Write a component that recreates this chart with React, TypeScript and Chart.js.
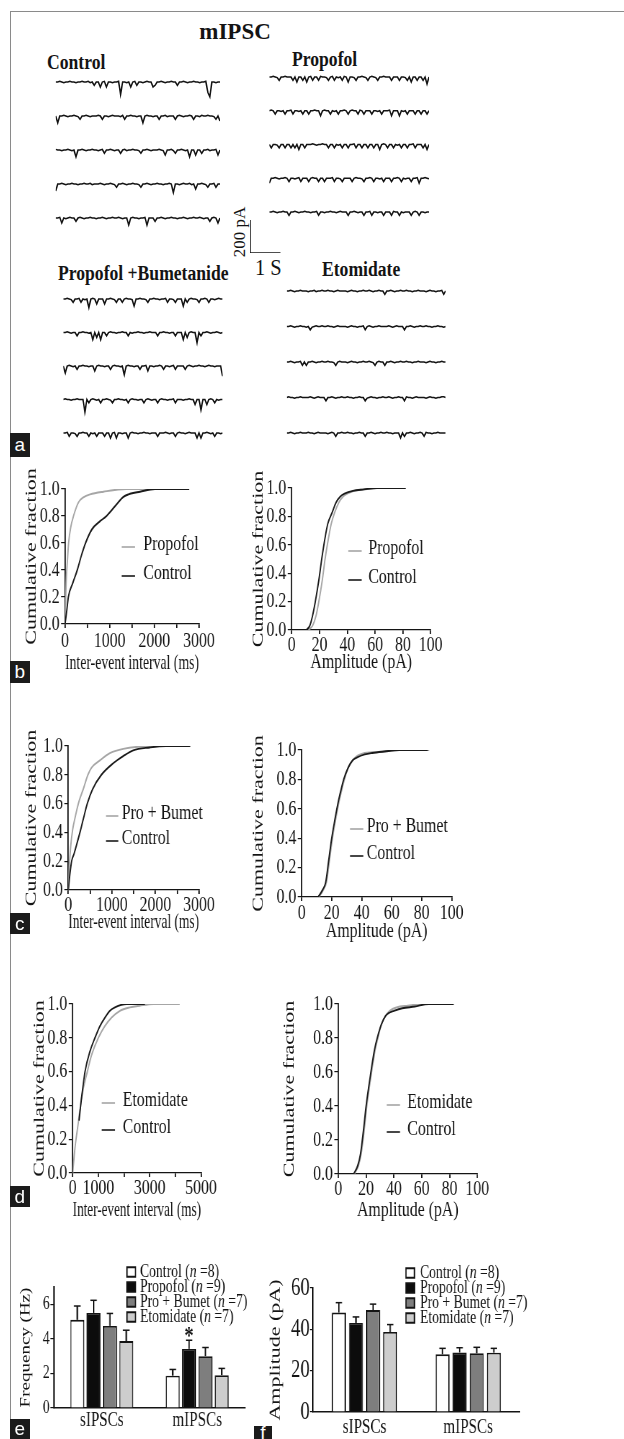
import React, { useEffect, useRef } from 'react';
import { Chart, registerables } from 'chart.js';

Chart.register(...registerables);

const SERIF = "'Liberation Serif', 'Times New Roman', Times, serif";
const SANS = "'Liberation Sans', Arial, Helvetica, sans-serif";
const INK = '#141414';

// ================= DATA =================
// (a) mIPSC traces – one digit per sample; the digit indexes TRACE_LEVELS_PA (downward deflection)
const TRACES_CONTROL = [
  '1101211011 2110110213 1141041121 1081121410 3112101143 1101211011 3110121101 1211079112 11',
  '1511012110 1231101211 1013112101 1120311011 2115101121 1311021113 1012110131 1201101123 14',
  '0112110121 5110121101 1210311012 1131021101 1231101211 1012411023 1101215114 1131102110 41',
  '5110121101 1211011021 1101211012 3110121101 1231101211 0112110161 1210110214 1101231103 11',
  '1104121011 3101211011 2110121101 1012115101 1211051113 1101211011 2110121101 1012113101 41',
];
const TRACES_PROPOFOL = [
  '1101231101 1131411314 1031130112 3103121301 4112311012 3101231101 1131113112 3141131131 51',
  '1013112131 1031121311 3110114101 1312131101 3101130131 1131121311 1041114121 3111311311 31',
  '1311231131 1313141131 1101211011 3113121311 3110311311 3113114101 3113121311 3110311131 41',
  '4110121101 3112103111 3101131131 1103112311 1131011231 1013112131 1131101312 1131104110 12',
  '1101211011 3110121101 1211031121 1011210111 3110121131 1031121131 1130113121 1131013112 11',
];
const TRACES_PRO_BUMET = [
  '1101231103 1216101411 1411012311 3101125110 1123110112 1103112311 1513101123 1101311210 11',
  '1101211311 0112151415 1131011211 0113121101 1211011131 1011211311 1514101171 3110121101 21',
  '1510121311 0112114101 1211310112 1610112113 1104112110 1311210311 1131012110 1121011211 17',
  '1011211011 1813101213 1101231101 1213101121 1310121131 0112110311 1211011411 7114101312 11',
  '1103112311 0113121311 1311410411 2114101121 1011211131 1101211310 1121011141 4110121311 21',
];
const TRACES_ETOMIDATE = [
  '1101211011 1211021101 1011210111 1210112110 1101211011 3110121101 1011211011 1210112110 31',
  '1101211011 2132101101 1011210111 1210112110 3101211011 1101210111 3110121101 1011211011 21',
  '1101211031 3110121101 1011231011 1210112110 1101231011 3110121101 1011211011 1210112110 11',
  '1011211011 1101210111 3110121101 1011211011 3210112110 1101211011 3011210111 1210112110 01',
  '1101211011 1011210111 1210131101 1011211011 3110121101 1011211141 3110121101 3011211011 11',
];
const TRACE_LEVELS_PA = [-4, 0, 4, 20, 30, 42, 52, 62, 75, 90];
const TRACE_SECONDS = 5.2;
const SCALE_BAR_S = 1;
const SCALE_BAR_PA = 200;

// (b)-(d) cumulative fraction curves: [x, fraction]
const IEI_B_CONTROL = [[0, 0], [40, 0.1], [75, 0.2], [170, 0.3], [275, 0.4], [360, 0.5], [460, 0.6], [600, 0.7], [780, 0.76], [930, 0.8], [1190, 0.9], [1300, 0.94], [1420, 0.96], [1680, 0.98], [2015, 1], [2780, 1]];
const IEI_B_PROPOFOL = [[0, 0], [25, 0.3], [60, 0.5], [80, 0.6], [130, 0.72], [190, 0.8], [300, 0.9], [420, 0.94], [560, 0.96], [860, 0.98], [1370, 1], [2760, 1]];
const AMP_B_CONTROL = [[10.5, 0], [13, 0.03], [15, 0.1], [17, 0.2], [19.5, 0.35], [21.6, 0.5], [24, 0.65], [26, 0.75], [28.8, 0.82], [32, 0.9], [35, 0.94], [38, 0.96], [44, 0.98], [52, 0.99], [61, 1], [82, 1]];
const AMP_B_PROPOFOL = [[12, 0], [15, 0.03], [17.5, 0.1], [19.5, 0.2], [22, 0.35], [24, 0.5], [26.5, 0.65], [28.5, 0.75], [31, 0.83], [34, 0.9], [37, 0.94], [40, 0.96], [45, 0.98], [52, 0.99], [62, 1], [82, 1]];
const IEI_C_CONTROL = [[0, 0], [40, 0.12], [76, 0.2], [130, 0.25], [267, 0.4], [350, 0.5], [435, 0.6], [557, 0.7], [760, 0.8], [1030, 0.88], [1260, 0.93], [1490, 0.97], [1870, 0.99], [2240, 1], [2800, 1]];
const IEI_C_BUMET = [[0, 0], [20, 0.15], [53, 0.3], [100, 0.42], [153, 0.5], [250, 0.62], [343, 0.7], [450, 0.8], [534, 0.85], [725, 0.9], [954, 0.95], [1260, 0.98], [2020, 1], [2790, 1]];
const AMP_C_CONTROL = [[11, 0], [14, 0.05], [16, 0.1], [18, 0.25], [20, 0.4], [22, 0.52], [24, 0.63], [26, 0.72], [28, 0.8], [31, 0.88], [34, 0.93], [37, 0.95], [42, 0.97], [47, 0.98], [55, 0.99], [65, 1], [84, 1]];
const AMP_C_BUMET = [[11.5, 0], [14.5, 0.05], [16.5, 0.1], [18.5, 0.25], [20.5, 0.4], [22.5, 0.52], [24.5, 0.63], [26.5, 0.72], [28.5, 0.8], [31, 0.88], [34, 0.93], [37, 0.96], [42, 0.98], [47, 0.985], [55, 0.99], [65, 1], [85, 1]];
const IEI_D_CONTROL = [[246, 0.31], [350, 0.45], [480, 0.6], [673, 0.72], [868, 0.8], [1063, 0.87], [1257, 0.92], [1450, 0.96], [1645, 0.98], [2100, 1], [2815, 1]];
const IEI_D_ETOMIDATE = [[0, 0], [90, 0.15], [220, 0.3], [350, 0.45], [570, 0.6], [740, 0.7], [1000, 0.8], [1257, 0.87], [1517, 0.92], [1840, 0.96], [2230, 0.98], [2610, 0.99], [3140, 1], [4170, 1]];
const AMP_D_CONTROL = [[11, 0], [14, 0.05], [16, 0.12], [18, 0.25], [20, 0.4], [22, 0.52], [24, 0.63], [26, 0.73], [28, 0.8], [31, 0.88], [34, 0.93], [37, 0.95], [40, 0.96], [46, 0.975], [55, 0.985], [65, 1], [83, 1]];
const AMP_D_ETOMIDATE = [[11.5, 0], [14.5, 0.05], [16.5, 0.12], [18.5, 0.25], [20.5, 0.4], [22.5, 0.52], [24.5, 0.63], [26.5, 0.73], [28.5, 0.8], [31, 0.88], [34, 0.93], [37, 0.96], [42, 0.98], [50, 0.99], [60, 1], [83, 1]];
const IEI_TICK_LABELS_3000 = [0, 1000, 2000, 3000];
const IEI_TICK_LABELS_5000 = [0, 1000, 3000, 5000];
const AMP_TICK_LABELS = [0, 20, 40, 60, 80, 100];

// (e)-(f) bar graphs
const CATEGORIES = ['sIPSCs', 'mIPSCs'];
const GROUP_LABELS = ['Control', 'Propofol', 'Pro + Bumet', 'Etomidate'];
const GROUP_N = [8, 9, 7, 7];
const FREQ_MEAN = [[5.1, 1.87], [5.5, 3.42], [4.75, 3.0], [3.87, 1.9]];
const FREQ_SEM = [[0.8, 0.36], [0.73, 0.5], [0.72, 0.5], [0.63, 0.39]];
const AMP_MEAN = [[48.1, 27.9], [43.1, 28.8], [49.3, 28.4], [38.7, 28.7]];
const AMP_SEM = [[4.8, 2.9], [2.9, 2.3], [2.9, 2.9], [3.6, 2.1]];
const FREQ_MARKS = [{ group: 1, category: 1, text: '*' }];

// ================= STYLE =================
const GROUP_FILL = ['#ffffff', '#0c0c0c', '#7e7e7e', '#cdcdcd'];
const TREAT_COLOR = '#a6a6a6';
const CONTROL_COLOR = '#1a1a1a';
const PX_PER_PA = 33 / SCALE_BAR_PA;
const SQUISH = 0.72; // the printed graphs are horizontally condensed

type Box = { left: number; top: number; width: number; height: number };

function ChartCanvas({ box, sx = 1, make }: { box: Box; sx?: number; make: (b: Box, iw: number) => any }) {
  const ref = useRef<HTMLCanvasElement | null>(null);
  const iw = Math.round(box.width / sx);
  useEffect(() => {
    if (!ref.current) return;
    const chart = new Chart(ref.current, make(box, iw));
    return () => chart.destroy();
  }, []);
  return (
    <canvas
      ref={ref}
      width={iw}
      height={box.height}
      style={{
        position: 'absolute', left: box.left, top: box.top, width: iw, height: box.height,
        transform: sx !== 1 ? `scaleX(${sx})` : undefined, transformOrigin: '0 0',
      }}
    />
  );
}

const baseOptions = {
  responsive: false,
  animation: false,
  devicePixelRatio: 1,
  events: [] as any[],
};

// ---------- traces ----------
const parseTrace = (s: string) => s.replace(/\s+/g, '').split('').map(Number);

type TraceGroup = { traces: string[]; left: number; width: number; base: number; gap: number };
const TRACE_GROUPS: TraceGroup[] = [
  { traces: TRACES_CONTROL, left: 55.7, width: 164.3, base: 82, gap: 34 },
  { traces: TRACES_PROPOFOL, left: 269.3, width: 159.7, base: 77, gap: 33.75 },
  { traces: TRACES_PRO_BUMET, left: 63.3, width: 159.3, base: 299, gap: 33.5 },
  { traces: TRACES_ETOMIDATE, left: 286.7, width: 159, base: 291, gap: 35.5 },
];

function traceBox(g: TraceGroup): Box {
  return {
    left: Math.floor(g.left - 3),
    top: Math.round(g.base - 10),
    width: Math.ceil(g.width + 6),
    height: Math.round(g.gap * 4 + 32),
  };
}

function traceConfig(g: TraceGroup, box: Box) {
  const yMax = (g.base - box.top) / PX_PER_PA;
  const yMin = yMax - box.height / PX_PER_PA;
  const gapPA = g.gap / PX_PER_PA;
  return {
    type: 'line',
    data: {
      datasets: g.traces.map((t, i) => {
        const v = parseTrace(t);
        const dt = TRACE_SECONDS / (v.length - 1);
        return {
          data: v.map((d, j) => ({ x: j * dt, y: -i * gapPA - TRACE_LEVELS_PA[d] })),
          borderColor: INK,
          borderWidth: 1.5,
          pointRadius: 0,
          tension: 0,
          fill: false,
        };
      }),
    },
    options: {
      ...baseOptions,
      layout: { padding: { left: g.left - box.left, right: box.left + box.width - (g.left + g.width), top: 0, bottom: 0 } },
      plugins: { legend: { display: false }, tooltip: { enabled: false } },
      scales: {
        x: { type: 'linear', display: false, min: 0, max: TRACE_SECONDS },
        y: { type: 'linear', display: false, min: yMin, max: yMax },
      },
    },
  };
}

const SCALE_BAR = { x: 250, top: 220, bottom: 253, right: 280.7 };
const scaleBarBox: Box = { left: 247, top: 216, width: 38, height: 41 };
function scaleBarConfig(box: Box) {
  return {
    type: 'line',
    data: {
      datasets: [{
        data: [{ x: 0, y: SCALE_BAR_PA }, { x: 0, y: 0 }, { x: SCALE_BAR_S, y: 0 }],
        borderColor: INK, borderWidth: 1.5, pointRadius: 0, tension: 0, fill: false,
      }],
    },
    options: {
      ...baseOptions,
      layout: {
        padding: {
          left: SCALE_BAR.x - box.left,
          right: box.left + box.width - SCALE_BAR.right,
          top: SCALE_BAR.top - box.top,
          bottom: box.top + box.height - SCALE_BAR.bottom,
        },
      },
      plugins: { legend: { display: false }, tooltip: { enabled: false } },
      scales: {
        x: { type: 'linear', display: false, min: 0, max: SCALE_BAR_S },
        y: { type: 'linear', display: false, min: 0, max: SCALE_BAR_PA },
      },
    },
  };
}

// ---------- cumulative fraction ----------
type CdfSpec = {
  yTitleX: number; xTitleY: number; xLabelY: number;
  x0: number; x1: number; yTop: number; yBot: number;
  xMax: number; xStep: number; xLabels: number[]; xTitle: string;
  control: number[][]; treat: number[][]; treatLabel: string;
  legX0: number; legX1: number; legY: number[]; legTextX: number;
};

const CDF_SPECS: CdfSpec[] = [
  { yTitleX: 31.7, xTitleY: 663, xLabelY: 641, x0: 65, x1: 199, yTop: 489, yBot: 624, xMax: 3000, xStep: 500, xLabels: IEI_TICK_LABELS_3000, xTitle: 'Inter-event interval (ms)', control: IEI_B_CONTROL, treat: IEI_B_PROPOFOL, treatLabel: 'Propofol', legX0: 121.7, legX1: 135, legY: [547, 576], legTextX: 143.3 },
  { yTitleX: 258.3, xTitleY: 662, xLabelY: 645, x0: 291.7, x1: 430.7, yTop: 488, yBot: 630, xMax: 100, xStep: 20, xLabels: AMP_TICK_LABELS, xTitle: 'Amplitude (pA)', control: AMP_B_CONTROL, treat: AMP_B_PROPOFOL, treatLabel: 'Propofol', legX0: 348.3, legX1: 361.7, legY: [551, 580], legTextX: 368.3 },
  { yTitleX: 31.7, xTitleY: 922, xLabelY: 903, x0: 68.3, x1: 199, yTop: 746, yBot: 890, xMax: 3000, xStep: 500, xLabels: IEI_TICK_LABELS_3000, xTitle: 'Inter-event interval (ms)', control: IEI_C_CONTROL, treat: IEI_C_BUMET, treatLabel: 'Pro + Bumet', legX0: 106, legX1: 118.3, legY: [816, 841], legTextX: 121.7 },
  { yTitleX: 258.3, xTitleY: 931, xLabelY: 913, x0: 301.7, x1: 451.7, yTop: 750, yBot: 897, xMax: 100, xStep: 20, xLabels: AMP_TICK_LABELS, xTitle: 'Amplitude (pA)', control: AMP_C_CONTROL, treat: AMP_C_BUMET, treatLabel: 'Pro + Bumet', legX0: 350, legX1: 363.3, legY: [829, 856], legTextX: 366.7 },
  { yTitleX: 40, xTitleY: 1210, xLabelY: 1187, x0: 72.7, x1: 201, yTop: 1004, yBot: 1173, xMax: 5000, xStep: 1000, xLabels: IEI_TICK_LABELS_5000, xTitle: 'Inter-event interval (ms)', control: IEI_D_CONTROL, treat: IEI_D_ETOMIDATE, treatLabel: 'Etomidate', legX0: 101.7, legX1: 115, legY: [1103, 1130], legTextX: 122.7 },
  { yTitleX: 290, xTitleY: 1210, xLabelY: 1187, x0: 338.3, x1: 477.3, yTop: 1004, yBot: 1174, xMax: 100, xStep: 20, xLabels: AMP_TICK_LABELS, xTitle: 'Amplitude (pA)', control: AMP_D_CONTROL, treat: AMP_D_ETOMIDATE, treatLabel: 'Etomidate', legX0: 386.7, legX1: 400, legY: [1105, 1132], legTextX: 407.3 },
];

const CDF_FONT = 22;

function cdfBox(s: CdfSpec): Box {
  const left = Math.round(s.yTitleX - ((CDF_FONT * 1.2) / 2) * SQUISH);
  const top = Math.round(s.yTop - 30);
  const right = Math.round(s.x1 + 22);
  const bottom = Math.round(s.xTitleY + (CDF_FONT * 1.2) / 2);
  return { left, top, width: right - left, height: bottom - top };
}

function cdfConfig(s: CdfSpec, box: Box, iw: number) {
  const ix = (x: number) => (x - box.left) / SQUISH;
  const tickPad = Math.max(0, Math.round(s.xLabelY - s.yBot - 4 - CDF_FONT / 2));
  const legendPlugin = {
    id: 'lineLegend',
    afterDatasetsDraw(chart: any) {
      const ctx = chart.ctx;
      const order = [1, 0];
      ctx.save();
      order.forEach((di, row) => {
        const ds = chart.data.datasets[di];
        const y = s.legY[row] - box.top;
        ctx.strokeStyle = ds.borderColor;
        ctx.lineWidth = 1.6;
        ctx.beginPath();
        ctx.moveTo(ix(s.legX0), y);
        ctx.lineTo(ix(s.legX1), y);
        ctx.stroke();
        ctx.fillStyle = INK;
        ctx.font = `${CDF_FONT}px ${SERIF}`;
        ctx.textBaseline = 'middle';
        ctx.textAlign = 'left';
        ctx.fillText(ds.label, ix(s.legTextX), y - 3);
      });
      ctx.restore();
    },
  };
  const tickFont = { family: SERIF, size: CDF_FONT, lineHeight: 1 };
  return {
    type: 'line',
    data: {
      datasets: [
        { label: 'Control', data: s.control.map(([x, y]) => ({ x, y })), borderColor: CONTROL_COLOR, borderWidth: 1.9, pointRadius: 0, cubicInterpolationMode: 'monotone', fill: false },
        { label: s.treatLabel, data: s.treat.map(([x, y]) => ({ x, y })), borderColor: TREAT_COLOR, borderWidth: 1.9, pointRadius: 0, cubicInterpolationMode: 'monotone', fill: false },
      ],
    },
    options: {
      ...baseOptions,
      layout: { padding: { left: 0, top: s.yTop - box.top, right: iw - ix(s.x1), bottom: 0 } },
      plugins: { legend: { display: false }, tooltip: { enabled: false } },
      scales: {
        x: {
          type: 'linear', min: 0, max: s.xMax,
          grid: { drawOnChartArea: false, drawTicks: true, tickLength: 4, color: INK, lineWidth: 1.8 },
          border: { color: INK, width: 1.3 },
          ticks: {
            stepSize: s.xStep, autoSkip: false, maxRotation: 0, padding: tickPad, color: INK, font: tickFont,
            callback: (v: any) => (s.xLabels.includes(Number(v)) ? String(v) : ''),
          },
          title: { display: true, text: s.xTitle, color: INK, font: { family: SERIF, size: CDF_FONT }, padding: 0 },
          afterFit: (sc: any) => { sc.height = box.top + box.height - s.yBot; },
        },
        y: {
          type: 'linear', min: 0, max: 1,
          grid: { drawOnChartArea: false, drawTicks: true, tickLength: 5.5, color: INK, lineWidth: 1.2 },
          border: { color: INK, width: 1.8 },
          ticks: {
            stepSize: 0.2, padding: 2, color: INK, font: tickFont,
            callback: (v: any) => Number(v).toFixed(1),
          },
          title: { display: true, text: 'Cumulative fraction', color: INK, font: { family: SERIF, size: CDF_FONT }, padding: 0 },
          afterFit: (sc: any) => { sc.width = ix(s.x0); },
        },
      },
    },
    plugins: [legendPlugin],
  };
}

// ---------- bar graphs ----------
type BarSpec = {
  yTitleX: number; yTitle: string; yTitleSize: number;
  x0: number; x1: number; yTop: number; yBot: number; xLabelY: number;
  yMax: number; yStep: number; yLabelStep: number; yTickSize: number; yTickLen: number; yTickPad: number;
  means: number[][]; sems: number[][]; marks: { group: number; category: number; text: string }[];
  catPct: number; barPct: number;
  legBoxX: number; legTextX: number; legRows: number[];
  canvasTop: number; canvasRight: number;
};

const BAR_SPECS: BarSpec[] = [
  {
    yTitleX: 26, yTitle: 'Frequency (Hz)', yTitleSize: 19,
    x0: 54, x1: 245, yTop: 1287, yBot: 1408, xLabelY: 1420,
    yMax: 7, yStep: 1, yLabelStep: 2, yTickSize: 19, yTickLen: 5, yTickPad: 1,
    means: FREQ_MEAN, sems: FREQ_SEM, marks: FREQ_MARKS,
    catPct: 0.684, barPct: 0.86,
    legBoxX: 127, legTextX: 140, legRows: [1272, 1287, 1302, 1317],
    canvasTop: 1260, canvasRight: 250,
  },
  {
    yTitleX: 276, yTitle: 'Amplitude (pA)', yTitleSize: 22,
    x0: 312.7, x1: 520, yTop: 1288, yBot: 1412, xLabelY: 1427,
    yMax: 60, yStep: 10, yLabelStep: 20, yTickSize: 26, yTickLen: 4, yTickPad: 0,
    means: AMP_MEAN, sems: AMP_SEM, marks: [],
    catPct: 0.66, barPct: 0.82,
    legBoxX: 406, legTextX: 420, legRows: [1273, 1288, 1303, 1318],
    canvasTop: 1260, canvasRight: 624,
  },
];

function barBox(s: BarSpec): Box {
  const left = Math.round(s.yTitleX - ((s.yTitleSize * 1.2) / 2) * SQUISH);
  return { left, top: s.canvasTop, width: s.canvasRight - left, height: 1439 - s.canvasTop };
}

function barConfig(s: BarSpec, box: Box, iw: number) {
  const ix = (x: number) => (x - box.left) / SQUISH;
  const LEG_SIZE = 19;
  const CAT_SIZE = 21;
  const errorPlugin = {
    id: 'errorBars',
    afterDatasetsDraw(chart: any) {
      const ctx = chart.ctx;
      const yScale = chart.scales.y;
      ctx.save();
      ctx.strokeStyle = INK;
      chart.data.datasets.forEach((ds: any, gi: number) => {
        const meta = chart.getDatasetMeta(gi);
        meta.data.forEach((bar: any, ci: number) => {
          const topPx = yScale.getPixelForValue(ds.data[ci] + s.sems[gi][ci]);
          ctx.lineWidth = 2;
          ctx.beginPath();
          ctx.moveTo(bar.x, bar.y);
          ctx.lineTo(bar.x, topPx);
          ctx.stroke();
          ctx.lineWidth = 1.5;
          ctx.beginPath();
          ctx.moveTo(bar.x - 4.5, topPx);
          ctx.lineTo(bar.x + 4.5, topPx);
          ctx.stroke();
        });
      });
      s.marks.forEach((m) => {
        const bar = chart.getDatasetMeta(m.group).data[m.category];
        const ds = chart.data.datasets[m.group];
        const topPx = yScale.getPixelForValue(ds.data[m.category] + s.sems[m.group][m.category]);
        ctx.fillStyle = INK;
        ctx.font = `bold 26px ${SERIF}`;
        ctx.textAlign = 'center';
        ctx.textBaseline = 'alphabetic';
        ctx.fillText(m.text, bar.x, topPx + 4);
      });
      ctx.restore();
    },
  };
  const legendPlugin = {
    id: 'groupLegend',
    afterDraw(chart: any) {
      const ctx = chart.ctx;
      ctx.save();
      chart.data.datasets.forEach((ds: any, gi: number) => {
        const y = s.legRows[gi] - box.top;
        const bx = ix(s.legBoxX);
        const bw = 8.5 / SQUISH;
        ctx.fillStyle = ds.backgroundColor;
        ctx.fillRect(bx, y - 4.75, bw, 9.5);
        ctx.strokeStyle = INK;
        ctx.lineWidth = 2;
        ctx.strokeRect(bx, y - 4.75, bw, 9.5);
        ctx.fillStyle = INK;
        ctx.textBaseline = 'middle';
        ctx.textAlign = 'left';
        let x = ix(s.legTextX);
        const normal = `${LEG_SIZE}px ${SERIF}`;
        const italic = `italic ${LEG_SIZE}px ${SERIF}`;
        const p1 = `${ds.label} (`;
        ctx.font = normal;
        ctx.fillText(p1, x, y);
        x += ctx.measureText(p1).width;
        ctx.font = italic;
        ctx.fillText('n', x, y);
        x += ctx.measureText('n').width;
        ctx.font = normal;
        ctx.fillText(` =${GROUP_N[gi]})`, x, y);
      });
      ctx.restore();
    },
  };
  const xPad = Math.max(0, Math.round(s.xLabelY - s.yBot - CAT_SIZE / 2));
  return {
    type: 'bar',
    data: {
      labels: CATEGORIES,
      datasets: GROUP_LABELS.map((label, gi) => ({
        label,
        data: s.means[gi],
        backgroundColor: GROUP_FILL[gi],
        borderColor: INK,
        borderWidth: 1.8,
        categoryPercentage: s.catPct,
        barPercentage: s.barPct,
      })),
    },
    options: {
      ...baseOptions,
      layout: { padding: { left: 0, top: s.yTop - box.top, right: iw - ix(s.x1), bottom: 0 } },
      plugins: { legend: { display: false }, tooltip: { enabled: false } },
      scales: {
        x: {
          type: 'category', offset: true,
          grid: { display: false, drawTicks: false, tickLength: 0 },
          border: { color: INK, width: 1.4 },
          ticks: { padding: xPad, color: INK, maxRotation: 0, autoSkip: false, font: { family: SERIF, size: CAT_SIZE, lineHeight: 1 } },
          afterFit: (sc: any) => { sc.height = box.top + box.height - s.yBot; },
        },
        y: {
          type: 'linear', min: 0, max: s.yMax,
          grid: { drawOnChartArea: false, drawTicks: true, tickLength: s.yTickLen, color: INK, lineWidth: 1.2 },
          border: { color: INK, width: 1.9 },
          ticks: {
            stepSize: s.yStep, padding: s.yTickPad, color: INK,
            font: { family: SERIF, size: s.yTickSize, lineHeight: 1 },
            callback: (v: any) => (Number(v) % s.yLabelStep === 0 ? String(v) : ''),
          },
          title: { display: true, text: s.yTitle, color: INK, font: { family: SERIF, size: s.yTitleSize }, padding: 0 },
          afterFit: (sc: any) => { sc.width = ix(s.x0); },
        },
      },
    },
    plugins: [errorPlugin, legendPlugin],
  };
}

// ---------- HTML text helpers ----------
function Text({ x, y, text, size, bold, anchor = 'left', rotate = false, sx = 1 }: { x: number; y: number; text: string; size: number; bold?: boolean; anchor?: 'left' | 'center'; rotate?: boolean; sx?: number }) {
  const tx = anchor === 'center' ? '-50%' : '0';
  return (
    <div
      style={{
        position: 'absolute', left: x, top: y, whiteSpace: 'nowrap',
        fontFamily: SERIF, fontSize: size, fontWeight: bold ? 'bold' : 'normal', lineHeight: 1,
        color: INK, transformOrigin: anchor === 'center' || rotate ? '50% 50%' : '0 50%',
        transform: rotate ? 'translate(-50%, -50%) rotate(-90deg)' : `translate(${tx}, -50%) scaleX(${sx})`,
      }}
    >
      {text}
    </div>
  );
}

function PanelTag({ x, y, w, h, letter }: { x: number; y: number; w: number; h: number; letter: string }) {
  return (
    <div
      style={{
        position: 'absolute', left: x, top: y, width: w, height: h, background: '#1b1b1b', color: '#fff',
        fontFamily: SANS, fontSize: 19, lineHeight: `${h}px`, textAlign: 'center', zIndex: 2, overflow: 'hidden',
      }}
    >
      {letter}
    </div>
  );
}

export default function App() {
  return (
    <div style={{ position: 'absolute', left: 0, top: 0, width: 624, height: 1439, background: '#fff', overflow: 'hidden' }}>
      <div style={{ position: 'absolute', left: 9.5, top: 10.5, width: 615, height: 1429, borderLeft: '1.5px solid #8a8a8a', borderTop: '1.5px solid #8a8a8a' }} />

      <Text x={235} y={31} text="mIPSC" size={23} bold anchor="center" />
      <Text x={47.3} y={62} text="Control" size={20} bold sx={0.88} />
      <Text x={292.3} y={59} text="Propofol" size={20} bold sx={0.88} />
      <Text x={58.3} y={273} text="Propofol +Bumetanide" size={20} bold sx={0.88} />
      <Text x={321.7} y={269} text="Etomidate" size={20} bold sx={0.88} />
      <Text x={238.5} y={232} text="200 pA" size={17} rotate />
      <Text x={255} y={267} text="1 S" size={23} sx={0.89} />

      {TRACE_GROUPS.map((g, i) => (
        <ChartCanvas key={'t' + i} box={traceBox(g)} make={(b) => traceConfig(g, b)} />
      ))}
      <ChartCanvas box={scaleBarBox} make={(b) => scaleBarConfig(b)} />

      {CDF_SPECS.map((s, i) => (
        <ChartCanvas key={'c' + i} box={cdfBox(s)} sx={SQUISH} make={(b, iw) => cdfConfig(s, b, iw)} />
      ))}

      {BAR_SPECS.map((s, i) => (
        <ChartCanvas key={'b' + i} box={barBox(s)} sx={SQUISH} make={(b, iw) => barConfig(s, b, iw)} />
      ))}

      <PanelTag x={10} y={433} w={19.5} h={24} letter="a" />
      <PanelTag x={10} y={661} w={19.5} h={22} letter="b" />
      <PanelTag x={10} y={913} w={19.5} h={21} letter="c" />
      <PanelTag x={10} y={1186} w={19.5} h={21} letter="d" />
      <PanelTag x={10} y={1419} w={19.5} h={20} letter="e" />
      <PanelTag x={254} y={1426} w={18} h={13} letter="f" />
    </div>
  );
}
